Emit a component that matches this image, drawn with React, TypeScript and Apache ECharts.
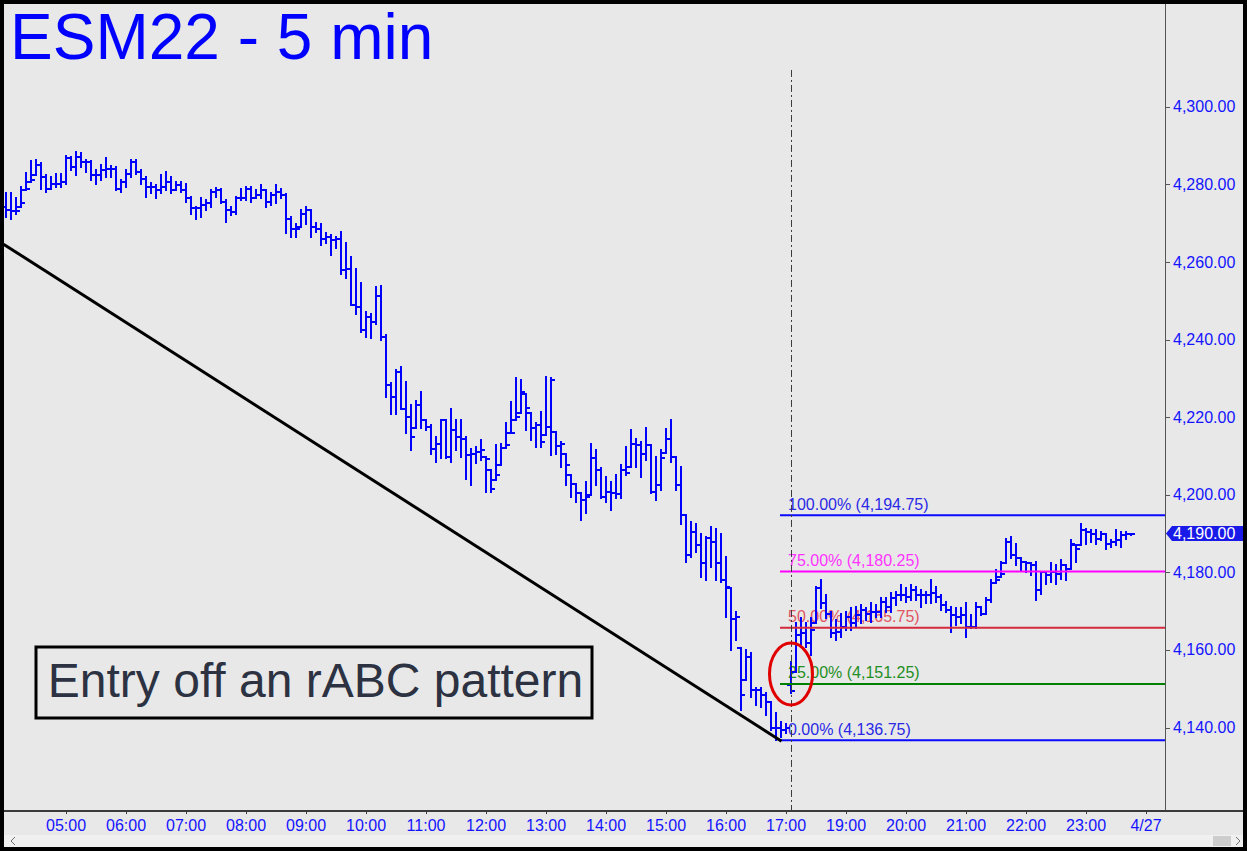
import React, { useEffect, useRef } from 'react';
import * as echarts from 'echarts';

// ---- data (ESM22 5-minute bars; index = bar slot, 12 bars per hour) ----
const opens = [
  4274.2, 4273.4, 4273.2, 4273.2, 4275.1, 4278.9, 4281.1, 4285.0, 4282.0, 4278.9,
  4280.2, 4280.2, 4280.7, 4286.7, 4284.5, 4287.1, 4285.8, 4285.8, 4282.4, 4282.4,
  4283.8, 4284.1, 4284.1, 4278.9, 4280.7, 4282.8, 4285.8, 4283.2, 4281.5, 4279.4,
  4279.4, 4278.5, 4279.4, 4280.7, 4278.5, 4279.8, 4278.5, 4276.4, 4273.8, 4273.8,
  4274.6, 4275.1, 4278.1, 4278.5, 4275.5, 4273.4, 4272.9, 4276.4, 4276.4, 4278.9,
  4276.4, 4277.2, 4278.5, 4275.5, 4277.2, 4278.1, 4277.2, 4271.2, 4268.6, 4268.6,
  4272.5, 4273.4, 4269.1, 4268.6, 4266.0, 4266.5, 4265.6, 4266.0, 4257.9, 4258.1,
  4248.9, 4248.4, 4242.4, 4245.9, 4244.6, 4251.2, 4240.7, 4228.2, 4225.2, 4231.7,
  4222.2, 4220.1, 4214.9, 4223.1, 4219.2, 4217.5, 4211.9, 4213.2, 4219.2, 4209.8,
  4216.6, 4214.9, 4214.5, 4210.2, 4210.6, 4211.1, 4211.5, 4209.1, 4201.4, 4205.1,
  4212.0, 4212.8, 4215.8, 4220.0, 4226.6, 4222.3, 4217.1, 4218.0, 4213.7, 4217.5,
  4229.6, 4212.6, 4213.2, 4207.7, 4202.9, 4200.4, 4198.6, 4199.5, 4209.4, 4206.4,
  4199.5, 4200.8, 4200.4, 4200.2, 4206.4, 4205.5, 4213.2, 4212.8, 4210.6, 4212.8,
  4200.8, 4202.5, 4209.4, 4214.3, 4209.8, 4202.5, 4194.8, 4184.5, 4190.5, 4187.0,
  4182.3, 4188.8, 4187.9, 4182.3, 4178.0, 4176.3, 4168.1, 4168.6, 4148.4, 4158.3,
  4149.7, 4149.7, 4148.4, 4146.7, 4139.8, 4139.8, 4139.4, 4151.0, 4149.5, 4163.9,
  4164.3, 4161.7, 4165.1, 4175.9, 4172.0, 4169.4, 4164.3, 4164.7, 4166.0, 4168.6,
  4166.9, 4169.0, 4170.3, 4169.4, 4169.9, 4169.9, 4172.4, 4171.2, 4173.3, 4174.2,
  4174.2, 4173.7, 4175.5, 4174.2, 4174.2, 4174.2, 4174.6, 4173.7, 4171.6, 4170.3,
  4169.0, 4168.6, 4169.0, 4166.0, 4166.0, 4171.2, 4169.4, 4172.9, 4177.2, 4178.0,
  4179.7, 4187.9, 4184.4, 4183.6, 4182.7, 4182.3, 4181.8, 4175.4, 4180.1, 4179.3,
  4180.1, 4179.7, 4181.8, 4181.0, 4187.4, 4186.1, 4190.9, 4190.4, 4190.0, 4188.7,
  4190.0, 4187.4, 4187.9, 4188.3, 4189.6, 4190.0,
];

const highs = [
  4277.7, 4277.7, 4276.4, 4279.4, 4283.0, 4286.1, 4286.2, 4285.4, 4282.4, 4282.0,
  4282.8, 4282.8, 4287.3, 4287.1, 4288.4, 4288.0, 4286.4, 4286.1, 4283.7, 4285.0,
  4286.7, 4284.7, 4284.5, 4281.1, 4283.7, 4286.4, 4286.2, 4283.8, 4281.8, 4280.4,
  4279.8, 4282.4, 4283.2, 4282.0, 4280.7, 4280.7, 4280.2, 4276.8, 4274.2, 4276.4,
  4275.9, 4278.5, 4279.2, 4278.7, 4275.9, 4274.2, 4276.8, 4278.9, 4279.4, 4279.4,
  4278.5, 4279.8, 4278.5, 4277.7, 4279.8, 4278.9, 4277.6, 4271.7, 4269.9, 4273.4,
  4274.2, 4273.4, 4270.1, 4269.9, 4267.4, 4266.9, 4266.5, 4267.8, 4264.8, 4261.3,
  4258.1, 4254.5, 4247.1, 4246.7, 4253.6, 4253.8, 4241.1, 4228.7, 4232.1, 4233.0,
  4229.1, 4223.1, 4224.2, 4226.5, 4219.2, 4217.9, 4214.9, 4219.4, 4219.2, 4222.2,
  4219.2, 4219.4, 4214.9, 4211.9, 4212.4, 4214.1, 4209.8, 4206.4, 4212.8, 4213.2,
  4218.4, 4224.0, 4230.0, 4229.6, 4226.1, 4221.0, 4218.4, 4221.4, 4230.4, 4230.0,
  4216.2, 4213.7, 4210.6, 4205.1, 4202.9, 4200.4, 4203.4, 4213.2, 4211.5, 4206.8,
  4204.7, 4203.4, 4205.1, 4207.7, 4212.4, 4216.7, 4214.5, 4213.7, 4217.1, 4212.8,
  4209.8, 4211.5, 4216.9, 4219.4, 4209.8, 4207.2, 4194.8, 4193.0, 4192.6, 4190.0,
  4189.2, 4191.8, 4191.3, 4190.0, 4184.0, 4175.9, 4169.9, 4160.4, 4160.0, 4159.1,
  4150.1, 4150.1, 4148.8, 4146.7, 4143.7, 4141.5, 4141.0, 4157.0, 4166.9, 4168.2,
  4166.9, 4168.2, 4176.3, 4178.0, 4174.2, 4169.9, 4167.7, 4169.4, 4169.9, 4170.7,
  4171.2, 4171.6, 4170.7, 4172.0, 4171.6, 4173.3, 4173.3, 4174.6, 4175.0, 4176.7,
  4175.9, 4176.7, 4176.3, 4175.5, 4175.0, 4178.0, 4176.3, 4174.2, 4172.4, 4171.2,
  4170.7, 4170.7, 4172.0, 4169.0, 4172.0, 4171.2, 4173.3, 4178.0, 4180.6, 4182.8,
  4188.7, 4189.2, 4187.4, 4183.6, 4182.7, 4182.3, 4182.7, 4180.1, 4180.1, 4182.3,
  4181.8, 4183.1, 4181.8, 4188.3, 4187.0, 4192.4, 4191.3, 4190.9, 4190.9, 4190.4,
  4190.0, 4188.3, 4190.9, 4190.4, 4190.4, 4190.0,
];

const lows = [
  4271.5, 4271.0, 4272.5, 4274.2, 4278.5, 4280.7, 4282.4, 4278.9, 4278.1, 4278.9,
  4279.4, 4279.4, 4280.2, 4283.7, 4282.4, 4284.5, 4283.2, 4281.1, 4280.2, 4281.1,
  4282.0, 4282.0, 4278.5, 4278.1, 4279.4, 4282.0, 4282.8, 4280.2, 4276.8, 4277.7,
  4276.4, 4277.7, 4278.5, 4277.7, 4278.5, 4278.1, 4275.5, 4272.5, 4271.2, 4271.6,
  4273.4, 4274.2, 4276.8, 4275.1, 4270.4, 4272.1, 4272.5, 4275.9, 4275.9, 4275.5,
  4276.4, 4276.4, 4274.2, 4274.6, 4275.1, 4276.4, 4267.4, 4266.5, 4266.5, 4269.1,
  4269.9, 4266.5, 4267.8, 4264.3, 4264.8, 4261.7, 4263.5, 4257.0, 4256.0, 4248.9,
  4246.7, 4242.0, 4240.7, 4240.3, 4244.1, 4239.8, 4225.2, 4220.9, 4220.9, 4222.2,
  4215.8, 4211.5, 4217.1, 4217.1, 4216.6, 4210.6, 4208.5, 4209.4, 4209.4, 4208.5,
  4211.5, 4209.8, 4204.2, 4202.5, 4208.1, 4209.0, 4200.8, 4200.8, 4203.8, 4207.7,
  4212.0, 4215.8, 4219.3, 4221.0, 4216.7, 4214.1, 4212.4, 4212.4, 4215.4, 4210.2,
  4210.6, 4207.2, 4202.5, 4199.5, 4198.2, 4193.5, 4195.2, 4199.9, 4202.5, 4199.1,
  4198.2, 4196.1, 4199.1, 4199.1, 4205.1, 4207.2, 4207.2, 4204.7, 4209.0, 4200.4,
  4198.6, 4201.2, 4210.7, 4208.5, 4201.2, 4192.6, 4182.7, 4184.0, 4185.3, 4178.9,
  4178.0, 4181.4, 4178.0, 4177.6, 4168.6, 4160.0, 4162.6, 4144.5, 4152.2, 4147.9,
  4145.8, 4145.4, 4143.2, 4139.4, 4136.75, 4137.6, 4138.5, 4148.8, 4154.4, 4160.8,
  4160.8, 4158.7, 4166.9, 4170.7, 4168.2, 4163.4, 4162.6, 4163.4, 4165.1, 4165.1,
  4166.0, 4166.9, 4167.7, 4167.3, 4168.6, 4168.6, 4169.9, 4169.9, 4171.6, 4172.9,
  4172.4, 4172.9, 4172.9, 4171.2, 4172.0, 4172.0, 4172.4, 4170.3, 4169.9, 4164.7,
  4166.4, 4166.9, 4163.4, 4165.6, 4165.6, 4169.0, 4169.4, 4172.4, 4177.2, 4178.9,
  4182.3, 4183.6, 4181.8, 4180.6, 4180.1, 4179.3, 4172.8, 4174.5, 4177.1, 4177.6,
  4177.1, 4178.4, 4178.0, 4181.0, 4182.7, 4187.0, 4187.4, 4187.9, 4187.4, 4188.3,
  4186.1, 4186.6, 4187.0, 4186.6, 4188.7, 4189.6,
];

const closes = [
  4273.4, 4273.2, 4273.2, 4275.1, 4278.9, 4281.1, 4285.0, 4282.0, 4278.9, 4280.2,
  4280.2, 4280.7, 4286.7, 4284.5, 4287.1, 4285.8, 4285.8, 4282.4, 4282.4, 4283.8,
  4284.1, 4284.1, 4278.9, 4280.7, 4282.8, 4285.8, 4283.2, 4281.5, 4279.4, 4279.4,
  4278.5, 4279.4, 4280.7, 4278.5, 4279.8, 4278.5, 4276.4, 4273.8, 4273.8, 4274.6,
  4275.1, 4278.1, 4278.5, 4275.5, 4273.4, 4272.9, 4276.4, 4276.4, 4278.9, 4276.4,
  4277.2, 4278.5, 4275.5, 4277.2, 4278.1, 4277.2, 4271.2, 4268.6, 4268.6, 4272.5,
  4273.4, 4269.1, 4268.6, 4266.0, 4266.5, 4265.6, 4266.0, 4257.9, 4258.1, 4248.9,
  4248.4, 4242.4, 4245.9, 4244.6, 4251.2, 4240.7, 4228.2, 4225.2, 4231.7, 4222.2,
  4220.1, 4214.9, 4223.1, 4219.2, 4217.5, 4211.9, 4213.2, 4219.2, 4209.8, 4216.6,
  4214.9, 4214.5, 4210.2, 4210.6, 4211.1, 4211.5, 4209.1, 4201.4, 4205.1, 4212.0,
  4212.8, 4215.8, 4220.0, 4226.6, 4222.3, 4217.1, 4218.0, 4213.7, 4217.5, 4229.6,
  4212.6, 4213.2, 4207.7, 4202.9, 4200.4, 4198.6, 4199.5, 4209.4, 4206.4, 4199.5,
  4200.8, 4200.4, 4200.2, 4206.4, 4205.5, 4213.2, 4212.8, 4210.6, 4212.8, 4200.8,
  4202.5, 4209.4, 4214.3, 4209.8, 4202.5, 4194.8, 4184.5, 4190.5, 4187.0, 4182.3,
  4188.8, 4187.9, 4182.3, 4178.0, 4176.3, 4168.1, 4168.6, 4148.4, 4158.3, 4149.7,
  4149.7, 4148.4, 4146.7, 4139.8, 4139.8, 4139.4, 4139.8, 4149.5, 4163.9, 4164.3,
  4161.7, 4165.1, 4175.9, 4172.0, 4169.4, 4164.3, 4164.7, 4166.0, 4168.6, 4166.9,
  4169.0, 4170.3, 4169.4, 4169.9, 4169.9, 4172.4, 4171.2, 4173.3, 4174.2, 4174.2,
  4173.7, 4175.5, 4174.2, 4174.2, 4174.2, 4174.6, 4173.7, 4171.6, 4170.3, 4169.0,
  4168.6, 4169.0, 4166.0, 4166.0, 4171.2, 4169.4, 4172.9, 4177.2, 4178.0, 4179.7,
  4187.9, 4184.4, 4183.6, 4182.7, 4182.3, 4181.8, 4175.4, 4180.1, 4179.3, 4180.1,
  4179.7, 4181.8, 4181.0, 4187.4, 4186.1, 4190.9, 4190.4, 4190.0, 4188.7, 4190.0,
  4187.4, 4187.9, 4188.3, 4189.6, 4190.0, 4190.0,
];

const timeTickIdx = [12, 24, 36, 48, 60, 72, 84, 96, 108, 120, 132, 144, 156, 168, 180, 192, 204, 216, 228];
const timeTickLabels = ['05:00', '06:00', '07:00', '08:00', '09:00', '10:00', '11:00', '12:00', '13:00', '14:00',
  '15:00', '16:00', '17:00', '19:00', '20:00', '21:00', '22:00', '23:00', '4/27'];
const priceTicks = [4140, 4160, 4180, 4200, 4220, 4240, 4260, 4280, 4300];

const fibLevels = [4194.75, 4180.25, 4165.75, 4151.25, 4136.75];
const fibPcts = ['100.00%', '75.00%', '50.00%', '25.00%', '0.00%'];
const fibLineColors = ['#0a0aff', '#ff00ff', '#d42a3e', '#008000', '#0a0aff'];
const fibTextColors = ['#2a2ae6', '#ff33ff', '#e05563', '#1f8f1f', '#2a2ae6'];
const fibStartIdx = 154.8;

const trendPoints = [[-0.5, 4264.6], [155.1, 4136.5]];
const sessionBreak = [157, 4309.5];
const circleCenter = [157, 4153.8];

const FONT = 'Arial, "Liberation Sans", Helvetica, sans-serif';
const fmtPrice = (v: number) =>
  v.toLocaleString('en-US', { minimumFractionDigits: 2, maximumFractionDigits: 2 });

export default function App() {
  const ref = useRef<HTMLDivElement>(null);

  useEffect(() => {
    document.body.style.margin = '0';
    const chart = echarts.init(ref.current!, null, { renderer: 'svg' });

    const bars = closes.map((c, i) => [i, opens[i], highs[i], lows[i], c]);
    const last = closes.length - 1;

    const txt = (extra: any) => ({
      ...extra,
      textAlign: extra.align,
      textVerticalAlign: extra.verticalAlign,
    });

    const option: any = {
      animation: false,
      backgroundColor: '#e8e8e8',
      grid: { left: 3.5, top: 4, width: 1161.5, height: 807, containLabel: false },
      tooltip: { show: false },
      xAxis: {
        type: 'value',
        min: -0.5,
        max: 231.8,
        axisLine: { show: true, onZero: false, lineStyle: { color: '#3a3a3a', width: 2 } },
        axisTick: { show: true, length: 3, customValues: timeTickIdx, lineStyle: { color: '#3a3a3a', width: 1 } },
        axisLabel: {
          customValues: timeTickIdx,
          formatter: (v: number) => {
            const k = timeTickIdx.indexOf(Math.round(v));
            return k >= 0 ? timeTickLabels[k] : '';
          },
          color: '#1414ff',
          fontSize: 16,
          fontFamily: FONT,
          margin: 6,
        },
        splitLine: { show: false },
      },
      yAxis: {
        type: 'value',
        position: 'right',
        min: 4118.5,
        max: 4326.5,
        axisLine: { show: true, onZero: false, lineStyle: { color: '#555555', width: 1 } },
        axisTick: { show: false },
        axisLabel: {
          customValues: priceTicks,
          formatter: (v: number) => fmtPrice(v),
          color: '#1414ff',
          fontSize: 16,
          fontFamily: FONT,
          margin: 8,
        },
        splitLine: { show: false },
      },
      series: [
        {
          type: 'custom',
          name: 'fibLabels',
          z: 1,
          silent: true,
          data: fibLevels.map((v, k) => [fibStartIdx, v, k]),
          encode: { x: 0, y: 1 },
          renderItem: (params: any, api: any) => {
            const k = api.value(2);
            const p = api.coord([api.value(0), api.value(1)]);
            return {
              type: 'text',
              style: txt({
                text: `${fibPcts[k]} (${fmtPrice(fibLevels[k])})`,
                x: p[0] + 8,
                y: p[1] - 3,
                fill: fibTextColors[k],
                font: `16px ${FONT}`,
                align: 'left',
                verticalAlign: 'bottom',
              }),
            };
          },
        },
        {
          type: 'custom',
          name: 'ESM22',
          z: 2,
          silent: true,
          data: bars,
          encode: { x: 0, y: [1, 2, 3, 4] },
          renderItem: (params: any, api: any) => {
            const i = api.value(0);
            const o = api.value(1);
            const h = api.value(2);
            const l = api.value(3);
            const c = api.value(4);
            const top = api.coord([i, h]);
            const bot = api.coord([i, l]);
            const po = api.coord([i, Math.min(h, Math.max(l, o))]);
            const pc = api.coord([i, c]);
            const x = Math.round(top[0]);
            const yo = Math.round(po[1]);
            const yc = Math.round(pc[1]);
            const st = { stroke: '#0000ff', lineWidth: 2, fill: null };
            return {
              type: 'group',
              children: [
                { type: 'line', shape: { x1: x, y1: Math.round(top[1]) - 1, x2: x, y2: Math.round(bot[1]) + 1 }, style: st },
                { type: 'line', shape: { x1: x - 4, y1: yo, x2: x, y2: yo }, style: st },
                { type: 'line', shape: { x1: x, y1: yc, x2: x + 4, y2: yc }, style: st },
              ],
            };
          },
        },
        {
          type: 'custom',
          name: 'fibLines',
          z: 3,
          silent: true,
          data: fibLevels.map((v, k) => [fibStartIdx, v, k]),
          encode: { x: 0, y: 1 },
          renderItem: (params: any, api: any) => {
            const k = api.value(2);
            const p = api.coord([api.value(0), api.value(1)]);
            const right = params.coordSys.x + params.coordSys.width;
            return {
              type: 'line',
              shape: { x1: p[0], y1: p[1], x2: right, y2: p[1] },
              style: { stroke: fibLineColors[k], lineWidth: 2 },
            };
          },
        },
        {
          type: 'custom',
          name: 'priceTicks',
          z: 3,
          silent: true,
          clip: false,
          data: priceTicks.map((v) => [fibStartIdx, v]),
          encode: { x: 0, y: 1 },
          renderItem: (params: any, api: any) => {
            const p = api.coord([api.value(0), api.value(1)]);
            const x0 = params.coordSys.x + params.coordSys.width;
            const y = Math.round(p[1]) + 0.5;
            return {
              type: 'line',
              shape: { x1: x0, y1: y, x2: x0 + 5, y2: y },
              style: { stroke: '#555555', lineWidth: 1 },
            };
          },
        },
        {
          type: 'line',
          name: 'trend',
          z: 4,
          silent: true,
          data: trendPoints,
          symbol: 'none',
          lineStyle: { color: '#000000', width: 3 },
        },
        {
          type: 'custom',
          name: 'session',
          z: 4,
          silent: true,
          data: [sessionBreak],
          encode: { x: 0, y: 1 },
          renderItem: (params: any, api: any) => {
            const p = api.coord([api.value(0), api.value(1)]);
            const bottom = params.coordSys.y + params.coordSys.height;
            const x = Math.round(p[0]) + 0.5;
            return {
              type: 'line',
              shape: { x1: x, y1: p[1], x2: x, y2: bottom },
              style: { stroke: '#3c3c3c', lineWidth: 1, lineDash: [7, 3, 2, 3] },
            };
          },
        },
        {
          type: 'custom',
          name: 'circle',
          z: 5,
          silent: true,
          data: [circleCenter],
          encode: { x: 0, y: 1 },
          renderItem: (params: any, api: any) => {
            const p = api.coord([api.value(0), api.value(1)]);
            return {
              type: 'ellipse',
              shape: { cx: p[0], cy: p[1], rx: 21.5, ry: 31 },
              style: { fill: 'none', stroke: '#e00000', lineWidth: 3 },
            };
          },
        },
        {
          type: 'custom',
          name: 'lastPrice',
          z: 6,
          silent: true,
          clip: false,
          data: [[last, closes[last]]],
          encode: { x: 0, y: 1 },
          renderItem: (params: any, api: any) => {
            const p = api.coord([api.value(0), api.value(1)]);
            const x0 = params.coordSys.x + params.coordSys.width;
            const y = p[1];
            return {
              type: 'group',
              children: [
                {
                  type: 'polygon',
                  shape: { points: [[x0 + 1, y], [x0 + 7, y - 7.5], [x0 + 80, y - 7.5], [x0 + 80, y + 7.5], [x0 + 7, y + 7.5]] },
                  style: { fill: '#1a1ae8' },
                },
                {
                  type: 'text',
                  style: txt({
                    text: fmtPrice(api.value(1)),
                    x: x0 + 8,
                    y: y,
                    fill: '#ffffff',
                    font: `16px ${FONT}`,
                    align: 'left',
                    verticalAlign: 'middle',
                  }),
                },
              ],
            };
          },
        },
      ],
      graphic: [
        {
          type: 'text',
          z: 10,
          x: 10,
          y: 37,
          style: txt({ text: 'ESM22 - 5 min', fill: '#0000ff', font: `64px ${FONT}`, align: 'left', verticalAlign: 'middle' }),
        },
        {
          type: 'rect',
          z: 10,
          shape: { x: 36, y: 647, width: 556, height: 71 },
          style: { fill: 'none', stroke: '#000000', lineWidth: 3 },
        },
        {
          type: 'text',
          z: 10,
          x: 315.5,
          y: 680,
          style: txt({ text: 'Entry off an rABC pattern', fill: '#2c3242', font: `48px ${FONT}`, align: 'center', verticalAlign: 'middle' }),
        },
        {
          type: 'line',
          z: 10,
          shape: { x1: 1165, y1: 811, x2: 1245, y2: 811 },
          style: { stroke: '#3a3a3a', lineWidth: 2 },
        },
        {
          type: 'rect',
          z: 10,
          shape: { x: 4, y: 835, width: 1239, height: 12 },
          style: { fill: '#f0f0f0' },
        },
        {
          type: 'rect',
          z: 11,
          shape: { x: 1213, y: 836, width: 18, height: 10 },
          style: { fill: '#cdcdcd' },
        },
        {
          type: 'polyline',
          z: 11,
          shape: { points: [[15, 837], [11, 841], [15, 845]] },
          style: { stroke: '#707070', lineWidth: 1, fill: 'none' },
        },
        {
          type: 'polyline',
          z: 11,
          shape: { points: [[1236, 837], [1240, 841], [1236, 845]] },
          style: { stroke: '#707070', lineWidth: 1, fill: 'none' },
        },
        {
          type: 'rect',
          z: 20,
          shape: { x: 2, y: 2, width: 1243, height: 847 },
          style: { fill: 'none', stroke: '#000000', lineWidth: 4 },
        },
      ],
    };

    chart.setOption(option);
    return () => chart.dispose();
  }, []);

  return (
    <div
      ref={ref}
      style={{ position: 'absolute', left: 0, top: 0, width: 1247, height: 851 }}
    />
  );
}
